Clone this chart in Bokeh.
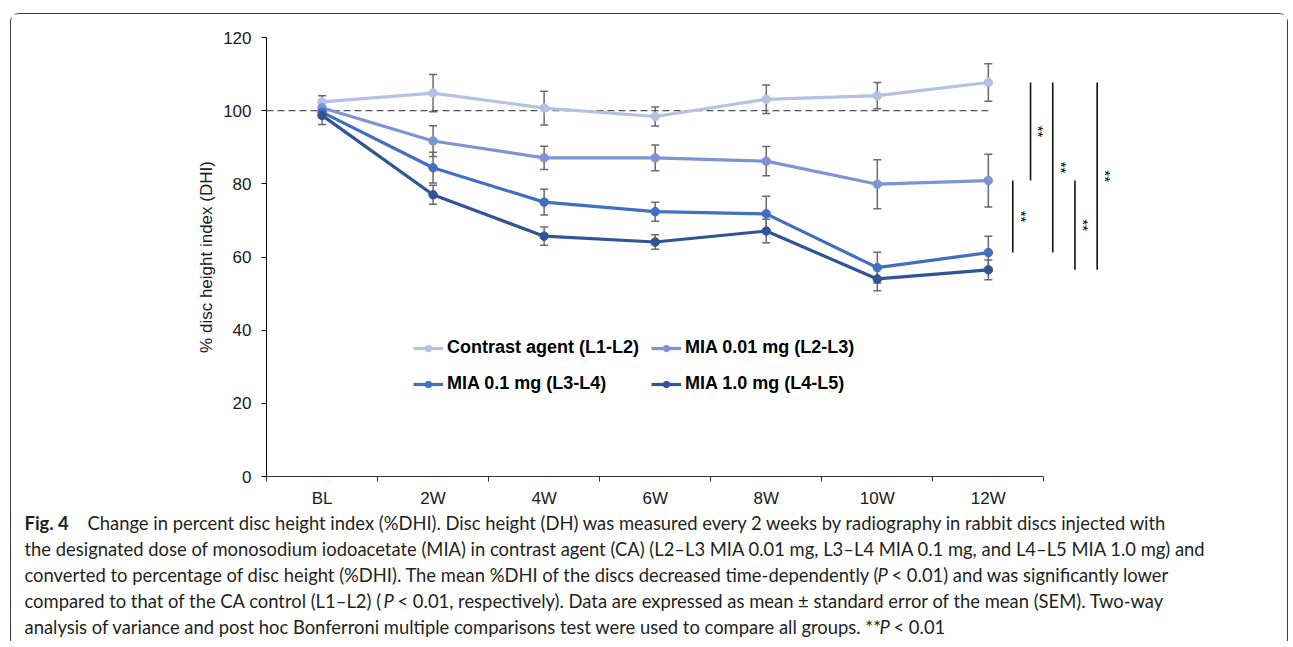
import numpy as np
from bokeh.plotting import figure
from bokeh.models import (Range1d, FixedTicker, Legend, LegendItem, Whisker, TeeHead,
                          ColumnDataSource, CustomJSTickFormatter)
from bokeh.core.properties import value
from bokeh.embed import file_html
from bokeh.resources import INLINE

# ---------------- data ----------------
categories = ["BL", "2W", "4W", "6W", "8W", "10W", "12W"]
y_ticks = [0, 20, 40, 60, 80, 100, 120]
baseline = 100

ca_name = "Contrast agent (L1-L2)"
ca_vals = [102.4, 104.8, 100.7, 98.4, 103.1, 104.1, 107.7]
ca_err = [1.7, 5.1, 4.6, 2.6, 3.9, 3.6, 5.1]

m001_name = "MIA 0.01 mg (L2-L3)"
m001_vals = [100.8, 91.7, 87.1, 87.1, 86.2, 79.9, 80.9]
m001_err = [1.5, 4.2, 3.2, 3.5, 4.0, 6.7, 7.2]

m01_name = "MIA 0.1 mg (L3-L4)"
m01_vals = [99.6, 84.4, 75.0, 72.4, 71.8, 57.1, 61.2]
m01_err = [1.5, 4.2, 3.5, 2.6, 4.8, 4.2, 4.5]

m10_name = "MIA 1.0 mg (L4-L5)"
m10_vals = [98.7, 77.0, 65.7, 64.1, 67.1, 54.0, 56.5]
m10_err = [2.5, 2.6, 2.5, 2.0, 3.2, 3.2, 2.7]

# significance comparisons at 12W: (group a, group b)
sig_pairs = [(1, 2), (0, 1), (0, 2), (1, 3), (0, 3)]
sig_label = "**"

# caption text pieces: (text, style)
caption_lines = [
    [("Fig. 4", "bold"),
     ("Change in percent disc height index (%DHI). Disc height (DH) was measured every 2 weeks by radiography in rabbit discs injected with", "normal")],
    [("the designated dose of monosodium iodoacetate (MIA) in contrast agent (CA) (L2\u2013L3 MIA 0.01 mg, L3\u2013L4 MIA 0.1 mg, and L4\u2013L5 MIA 1.0 mg) and", "normal")],
    [("converted to percentage of disc height (%DHI). The mean %DHI of the discs decreased time-dependently (", "normal"),
     ("P", "italic"), ("< 0.01) and was significantly lower", "normal")],
    [("compared to that of the CA control (L1\u2013L2) (", "normal"), ("P", "italic"),
     ("< 0.01, respectively). Data are expressed as mean \u00b1 standard error of the mean (SEM). Two-way", "normal")],
    [("analysis of variance and post hoc Bonferroni multiple comparisons test were used to compare all groups. **", "normal"),
     ("P", "italic"), ("< 0.01", "normal")],
]

# ---------------- layout / styling ----------------
colors = ["#b4c1e3", "#7c95d2", "#4170c0", "#2f5597"]
sig_offsets = [0.22, 0.38, 0.58, 0.78, 0.98]
CHART_FONT = "Liberation Sans"
CAP_FONT = "Lato"
CAP_SIZE = "18.4px"
W = 1278
H1 = 496
H2 = 132
BORDER = "1px solid #3c3c3c"
# caption piece x positions (px from canvas left) and line y (px from caption top)
cap_x = [[13, 76], [13], [13, 866, 880], [13, 372, 386], [13, 868, 882]]
cap_y = [13, 39, 65, 91, 117]

xs = np.arange(len(categories)) + 0.5

p = figure(width=W, height=H1, x_range=Range1d(0, 7.6), y_range=Range1d(0, 120),
           output_backend="svg", toolbar_location=None,
           min_border_left=255, min_border_right=W - 255 - 844, min_border_top=23,
           min_border_bottom=H1 - 462)
p.styles = {"border-top": BORDER, "border-left": BORDER, "border-right": BORDER,
            "border-top-left-radius": "9px", "border-top-right-radius": "9px",
            "margin-top": "13px", "margin-left": "10px"}
p.outline_line_color = None
p.xgrid.visible = False
p.ygrid.visible = False

# y axis
p.yaxis.ticker = FixedTicker(ticks=y_ticks)
p.yaxis.minor_tick_line_color = None
p.yaxis.major_tick_in = 0
p.yaxis.major_tick_out = 5
p.yaxis.axis_line_color = "#000000"
p.yaxis.major_tick_line_color = "#000000"
p.yaxis.major_label_text_font = CHART_FONT
p.yaxis.major_label_text_font_size = "17px"
p.yaxis.major_label_text_color = "#1a1a1a"
p.yaxis.major_label_standoff = 10
p.yaxis.axis_label = "% disc height index (DHI)"
p.yaxis.axis_label_text_font = CHART_FONT
p.yaxis.axis_label_text_font_size = "17px"
p.yaxis.axis_label_text_font_style = "normal"
p.yaxis.axis_label_text_color = "#1a1a1a"
p.yaxis.axis_label_standoff = 4

# x axis: labels at category centres, tick marks at category boundaries
p.xaxis.ticker = FixedTicker(ticks=list(xs), minor_ticks=list(range(len(categories) + 1)))
p.xaxis.formatter = CustomJSTickFormatter(args=dict(labels=categories),
                                          code="return labels[Math.round(tick - 0.5)] || ''")
p.xaxis.bounds = (0, len(categories))
p.xaxis.major_tick_line_color = None
p.xaxis.minor_tick_in = 0
p.xaxis.minor_tick_out = 5
p.xaxis.minor_tick_line_color = "#333333"
p.xaxis.axis_line_color = "#333333"
p.xaxis.major_label_text_font = CHART_FONT
p.xaxis.major_label_text_font_size = "17px"
p.xaxis.major_label_text_color = "#1a1a1a"
p.xaxis.major_label_standoff = 6

# baseline dashed line
p.line(x=[0, xs[-1]], y=[baseline, baseline], line_color="#555555", line_width=1.3,
       line_dash="7 4")

series = [(ca_name, ca_vals, ca_err), (m001_name, m001_vals, m001_err),
          (m01_name, m01_vals, m01_err), (m10_name, m10_vals, m10_err)]

sources = []
for (name, vals, errs), col in zip(series, colors):
    v = np.array(vals)
    e = np.array(errs)
    src = ColumnDataSource(dict(x=xs, y=v, upper=v + e, lower=v - e))
    w = Whisker(source=src, base="x", upper="upper", lower="lower", level="underlay",
                line_color="#6a6a6a", line_width=1.5,
                upper_head=TeeHead(size=8, line_color="#6a6a6a", line_width=1.5),
                lower_head=TeeHead(size=8, line_color="#6a6a6a", line_width=1.5))
    p.add_layout(w)
    sources.append(src)

line_rs = []
for (name, vals, errs), col, src in zip(series, colors, sources):
    lr = p.line("x", "y", source=src, line_color=col, line_width=3.2)
    sr = p.scatter("x", "y", source=src, size=8.5, fill_color=col, line_color=col)
    line_rs.append((name, lr, sr))

# legends (2 x 2)
legend_locs = [(147, 118), (385, 118), (147, 82), (385, 82)]
for (name, lr, sr), loc in zip(line_rs, legend_locs):
    leg = Legend(items=[LegendItem(label=name, renderers=[lr, sr])], location=loc,
                 padding=0, margin=0, border_line_color=None, background_fill_alpha=0,
                 glyph_width=30, glyph_height=16, label_standoff=4,
                 label_text_font=CHART_FONT, label_text_font_size="18px",
                 label_text_font_style="bold", label_text_color="#000000")
    p.add_layout(leg)

# significance brackets
last = [s[1][-1] for s in series]
sx = [xs[-1] + o for o in sig_offsets]
sy0 = [last[a] for a, b in sig_pairs]
sy1 = [last[b] for a, b in sig_pairs]
p.segment(x0=sx, y0=sy0, x1=sx, y1=sy1, line_color="#111111", line_width=1.6)
p.text(x=[x + 0.075 for x in sx], y=[(a + b) / 2 for a, b in zip(sy0, sy1)],
       text=[sig_label] * len(sx), angle=-np.pi / 2, text_align="center",
       text_baseline="middle", text_font=value(CHART_FONT), text_font_size="15px",
       text_color="#000000")

# ---------------- caption figure ----------------
c = figure(width=W, height=H2, x_range=Range1d(0, W), y_range=Range1d(H2, 0),
           output_backend="svg", toolbar_location=None, min_border=0)
c.styles = {"border-left": BORDER, "border-right": BORDER, "margin-left": "10px"}
c.axis.visible = False
c.grid.visible = False
c.outline_line_color = None
ct, cx, cy, cs = [], [], [], []
for pieces, xrow, yline in zip(caption_lines, cap_x, cap_y):
    for (txt, style), xx in zip(pieces, xrow):
        ct.append(txt); cx.append(xx); cy.append(yline); cs.append(style)
csrc = ColumnDataSource(dict(x=cx, y=cy, text=ct, style=cs))
c.text(x="x", y="y", text="text", source=csrc, text_font=value(CAP_FONT),
       text_font_size=CAP_SIZE, text_font_style="style", text_color="#231f20",
       text_baseline="middle", text_align="left")

open("out.html", "w").write(file_html([p, c], INLINE))
